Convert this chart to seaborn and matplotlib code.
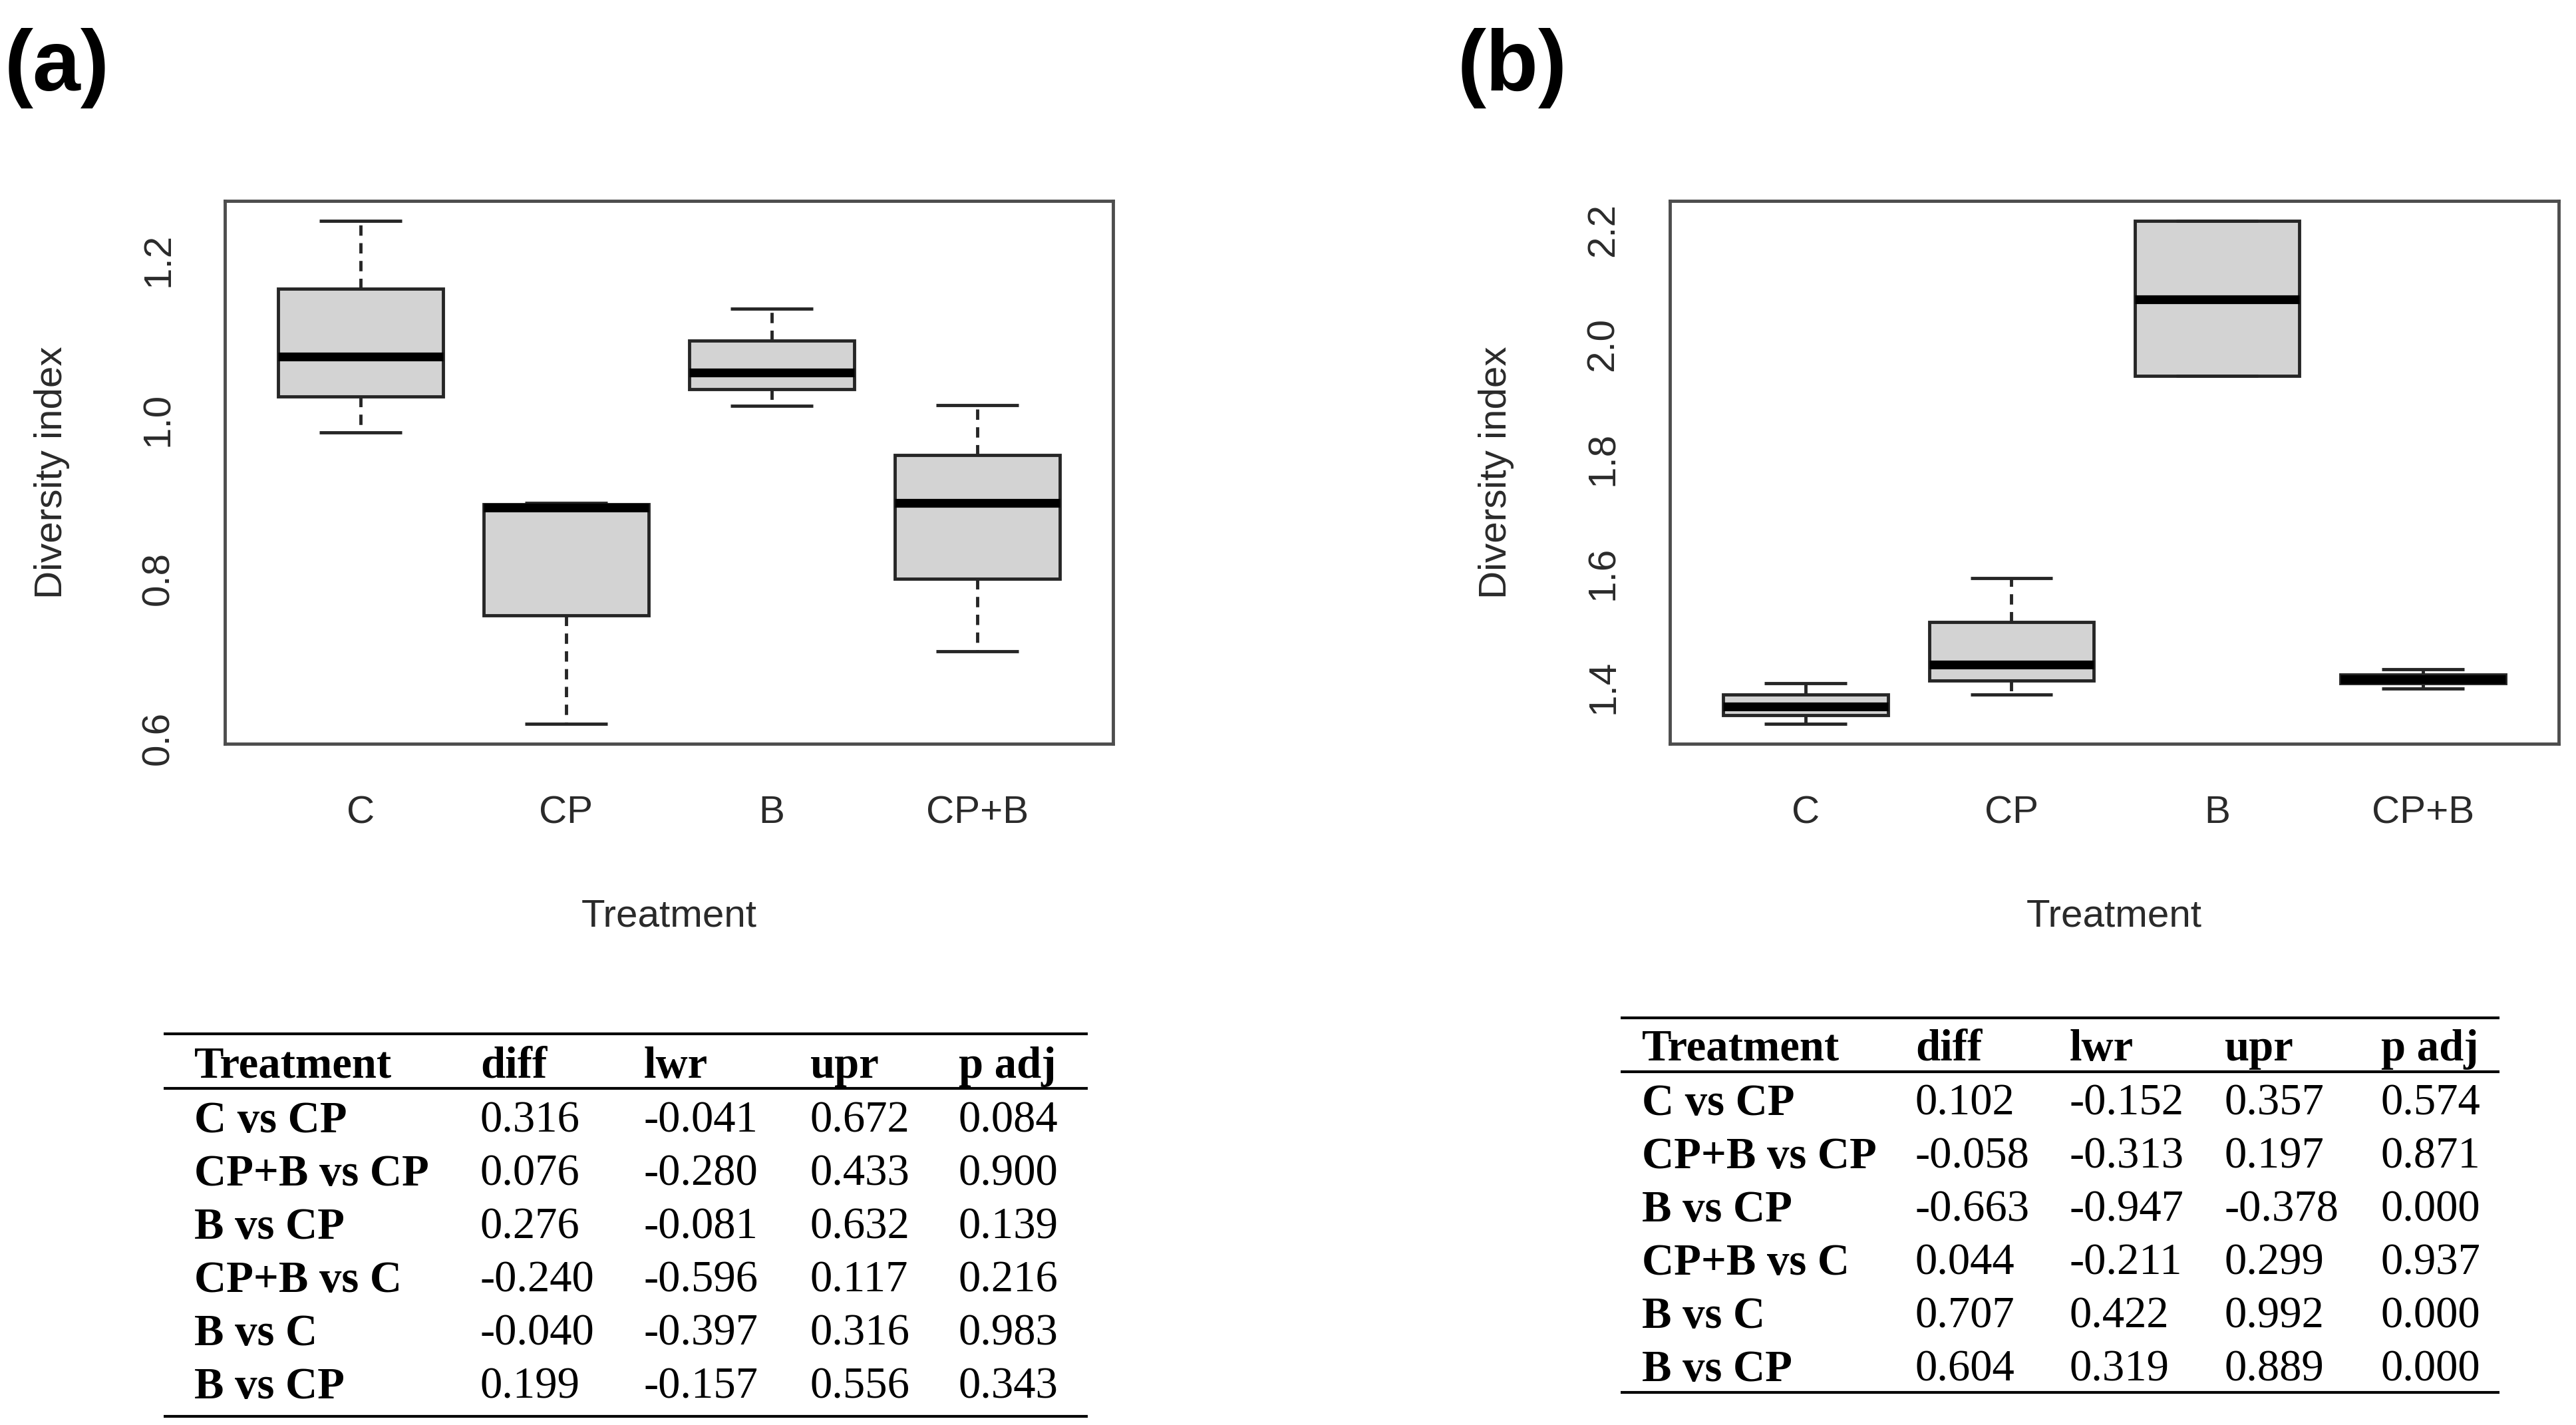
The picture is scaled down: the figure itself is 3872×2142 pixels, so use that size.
import numpy as np
import pandas as pd
import seaborn as sns
import matplotlib
matplotlib.use("Agg")
from matplotlib import pyplot as plt

W, H = 3873, 2142

treatments = ["C", "CP", "B", "CP+B"]

# five-number summaries: min, q1, median, q3, max
a_C = [0.984, 1.029, 1.079, 1.164, 1.249]
a_CP = [0.618, 0.754, 0.889, 0.893, 0.895]
a_B = [1.017, 1.038, 1.059, 1.099, 1.139]
a_CPB = [0.709, 0.800, 0.895, 0.955, 1.018]

b_C = [1.336, 1.351, 1.366, 1.387, 1.407]
b_CP = [1.387, 1.411, 1.439, 1.514, 1.591]
b_B = [1.944, 1.944, 2.078, 2.215, 2.215]  # only two values, no whiskers
b_CPB = [1.397, 1.407, 1.414, 1.422, 1.431]

a_yticks = [0.6, 0.7, 0.8, 0.9, 1.0, 1.1, 1.2]
a_yticklabels = ["0.6", "", "0.8", "", "1.0", "", "1.2"]
b_yticks = [1.4, 1.6, 1.8, 2.0, 2.2]
b_yticklabels = ["1.4", "1.6", "1.8", "2.0", "2.2"]

# Tukey tables
table_header = ["Treatment", "diff", "lwr", "upr", "p adj"]
comparisons = ["C vs CP", "CP+B vs CP", "B vs CP", "CP+B vs C", "B vs C", "B vs CP"]
a_diff = [0.316, 0.076, 0.276, -0.240, -0.040, 0.199]
a_lwr = [-0.041, -0.280, -0.081, -0.596, -0.397, -0.157]
a_upr = [0.672, 0.433, 0.632, 0.117, 0.316, 0.556]
a_padj = [0.084, 0.900, 0.139, 0.216, 0.983, 0.343]
b_diff = [0.102, -0.058, -0.663, 0.044, 0.707, 0.604]
b_lwr = [-0.152, -0.313, -0.947, -0.211, 0.422, 0.319]
b_upr = [0.357, 0.197, -0.378, 0.299, 0.992, 0.889]
b_padj = [0.574, 0.871, 0.000, 0.937, 0.000, 0.000]

BOX_FILL = "#D3D3D3"
LINE = "#262626"
FRAME = "#4d4d4d"
TEXT = "#2a2a2a"


def box_panel(ax, groups, yticks, yticklabels):
    df = pd.DataFrame({"Treatment": np.repeat(treatments, 5),
                       "Diversity index": np.concatenate(groups)})
    sns.boxplot(df, x="Treatment", y="Diversity index", order=treatments, ax=ax,
                color=BOX_FILL, saturation=1, width=0.8, whis=(0, 100), showfliers=False,
                linecolor=LINE, linewidth=3.5,
                medianprops=dict(color="black", linewidth=9.5, solid_capstyle="butt"),
                whiskerprops=dict(linestyle=(0, (3.2, 2.3))),
                capprops=dict(solid_capstyle="butt"))

    # R style limits: 4% padding around data range
    vals = np.concatenate(groups)
    lo, hi = vals.min(), vals.max()
    pad = 0.04 * (hi - lo)
    ax.set_ylim(lo - pad, hi + pad)
    ax.set_xlim(-0.66, 3.66)

    ax.set_yticks(yticks, labels=yticklabels)
    ax.tick_params(axis="both", direction="out", length=26.5, width=3.2, color=FRAME,
                   labelsize=42, labelcolor=TEXT)
    ax.tick_params(axis="y", pad=26, labelrotation=90)
    ax.tick_params(axis="x", pad=29)
    for t in ax.get_yticklabels():
        t.set_va("center")

    ax.set_xlabel("Treatment", fontsize=42, color=TEXT, va="baseline")
    ax.xaxis.set_label_coords(0.5, -0.336)
    ax.set_ylabel("Diversity index", fontsize=42, color=TEXT, va="center", ha="center")
    ax.yaxis.set_label_coords(-0.195, 0.5)

    for s in ax.spines.values():
        s.set_visible(True)
        s.set_color(FRAME)
        s.set_linewidth(3.5)


def draw_table(ov, cols, x_cols, line_x, top, head_line, bottom, head_base, row_base0, step):
    font = dict(family=["Liberation Serif", "DejaVu Serif"], fontsize=48, color="black")
    for x, h in zip(x_cols, table_header):
        ov.text(x, head_base, h, fontweight="bold", va="baseline", ha="left", **font)
    for i, name in enumerate(comparisons):
        yb = row_base0 + i * step
        ov.text(x_cols[0], yb, name, fontweight="bold", va="baseline", ha="left", **font)
        for x, col in zip(x_cols[1:], cols):
            ov.text(x, yb, f"{col[i]:.3f}", va="baseline", ha="left", **font)
    for y in (top, head_line, bottom):
        ov.plot(line_x, [y, y], color="black", lw=3, solid_capstyle="butt")


sns.set_style("white")
plt.rcParams["font.family"] = ["Liberation Sans", "DejaVu Sans"]

fig = plt.figure(figsize=(W / 100, H / 100), dpi=100)

ax_a = fig.add_axes([338 / W, 1 - 1118 / H, 1335 / W, 816 / H])
ax_b = fig.add_axes([2510 / W, 1 - 1118 / H, 1336 / W, 816 / H])

box_panel(ax_a, [a_C, a_CP, a_B, a_CPB], a_yticks, a_yticklabels)
box_panel(ax_b, [b_C, b_CP, b_B, b_CPB], b_yticks, b_yticklabels)

# overlay in pixel coordinates for panel letters and tables
ov = fig.add_axes([0, 0, 1, 1])
ov.patch.set_visible(False)
ov.axis("off")

ov.text(7, 136, "(a)", fontsize=93, fontweight="bold", va="baseline", ha="left", color="black")
ov.text(2191, 136, "(b)", fontsize=93, fontweight="bold", va="baseline", ha="left", color="black")

draw_table(ov, [a_diff, a_lwr, a_upr, a_padj], [292, 722, 968, 1218, 1441], [246, 1635],
           1554, 1636, 2129, 1620, 1702, 80)
draw_table(ov, [b_diff, b_lwr, b_upr, b_padj], [2468, 2879, 3111, 3344, 3579], [2436, 3757],
           1530, 1611, 2093, 1594, 1676, 80)

ov.set_xlim(0, W)
ov.set_ylim(H, 0)

fig.savefig("out.png", dpi=100)
